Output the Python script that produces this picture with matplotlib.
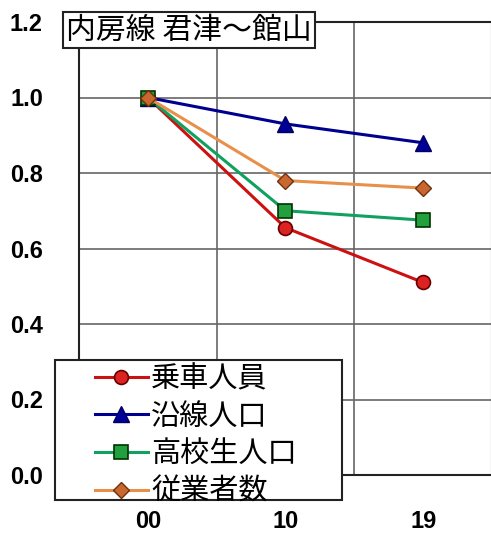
import matplotlib.pyplot as plt
from matplotlib.patches import Rectangle

plt.rcParams['font.family'] = ['Noto Sans CJK JP', 'DejaVu Sans']

years = ['00', '10', '19']
riders = [1.0, 0.655, 0.51]        # 乗車人員
population = [1.0, 0.93, 0.88]     # 沿線人口
students = [1.0, 0.70, 0.675]      # 高校生人口
workers = [1.0, 0.78, 0.76]        # 従業者数

fig = plt.figure(figsize=(4.91, 5.38), dpi=100)
ax = fig.add_axes([79 / 491, 63 / 538, 413 / 491, 453 / 538])

x = range(len(years))
ax.plot(x, riders, color='#cc1111', lw=2.2, marker='o', ms=10,
        mfc='#dd2222', mec='#660000', mew=1.2, label='乗車人員')
ax.plot(x, population, color='#000090', lw=2.2, marker='^', ms=11,
        mfc='#000099', mec='#000060', label='沿線人口')
ax.plot(x, students, color='#10a060', lw=2.2, marker='s', ms=10,
        mfc='#22a040', mec='#003300', mew=1.2, label='高校生人口')
ax.plot(x, workers, color='#e8904a', lw=2.2, marker='D', ms=8,
        mfc='#c8672e', mec='#703010', mew=1, label='従業者数')

ax.set_xlim(-0.5, 2.5)
ax.set_ylim(0, 1.2)
ax.set_yticks([0.0, 0.2, 0.4, 0.6, 0.8, 1.0, 1.2])
ax.set_yticklabels(['0.0', '0.2', '0.4', '0.6', '0.8', '1.0', '1.2'])
ax.set_xticks(list(x))
ax.set_xticklabels(years)
ax.set_xticks([0.5, 1.5], minor=True)
ax.grid(False)
ax.grid(True, which='minor', axis='x', color='#666666', lw=1.2)
ax.grid(True, which='major', axis='y', color='#666666', lw=1.2)
ax.tick_params(which='both', length=0, labelsize=17)
ax.tick_params(axis='y', pad=26)
ax.tick_params(axis='x', pad=25)
for lab in ax.get_xticklabels() + ax.get_yticklabels():
    lab.set_fontweight('bold')
    lab.set_family('Liberation Sans')
for s in ax.spines.values():
    s.set_color('#222222')
    s.set_linewidth(1.5)

fig.text(66 / 491, 1 - 30 / 538, '内房線 君津～館山', fontsize=21.5, va='center',
         zorder=10,
         bbox=dict(boxstyle='square,pad=0.1', fc='white', ec='#222222', lw=1.5))

# legend box, drawn separately so the wide left margin matches
fig.patches.append(Rectangle((55 / 491, 38 / 538), 287 / 491, 140 / 538,
                             transform=fig.transFigure, fc='white',
                             ec='#222222', lw=1.5, zorder=9))
leg = ax.legend(loc='upper left', bbox_to_anchor=(95 / 491, 1 - 364 / 538),
                bbox_transform=fig.transFigure, fontsize=21, frameon=False,
                handlelength=1.8, handletextpad=0.12, labelspacing=0.26,
                borderpad=0, borderaxespad=0)
leg.set_zorder(11)
fig.legends.append(ax.legend_)
ax.legend_ = None

fig.savefig('out.png', dpi=100)
